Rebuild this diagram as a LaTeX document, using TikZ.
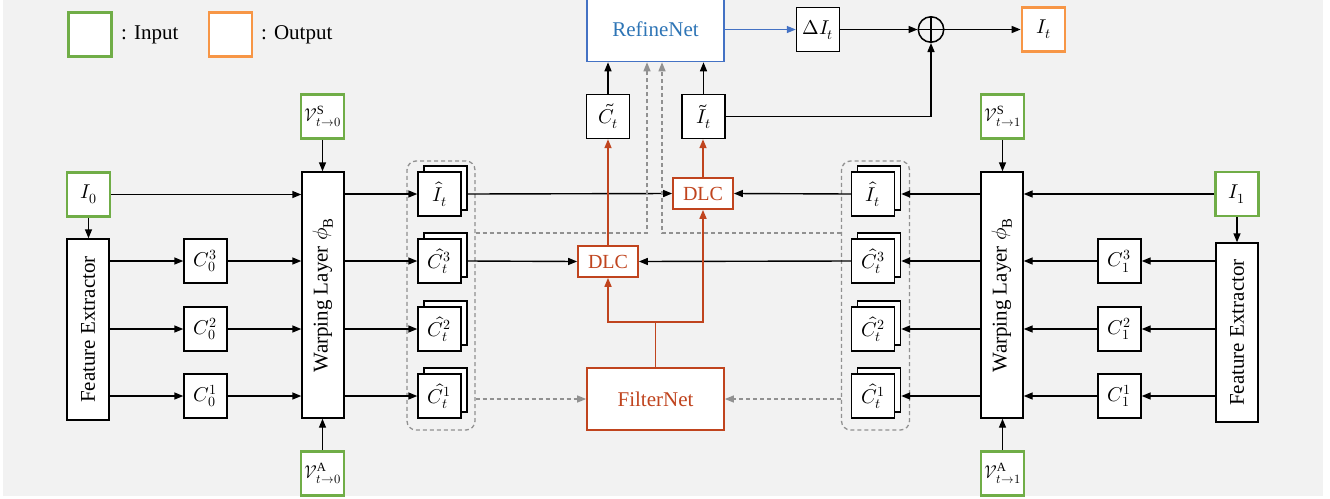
\documentclass[tikz,border=0pt]{standalone}
\usepackage{fontspec}
\setmainfont{Liberation Serif}
\usepackage{unicode-math}
\setmathfont{Latin Modern Math}
\usetikzlibrary{arrows.meta}
\definecolor{bgc}{RGB}{242,242,242}
\definecolor{ingreen}{RGB}{112,173,71}
\definecolor{outorange}{RGB}{247,150,70}
\definecolor{dred}{RGB}{192,68,30}
\definecolor{rblue}{RGB}{46,117,182}
\definecolor{rborder}{RGB}{68,114,196}
\definecolor{dgray}{RGB}{145,145,145}
\begin{document}
\begin{tikzpicture}[x=1pt,y=-1pt,
  every node/.style={font=\fontsize{21}{24}\selectfont},
  box/.style={draw=black,fill=white,line width=1.4pt,minimum width=43pt,minimum height=44pt,inner sep=0pt,font=\fontsize{20}{24}\selectfont},
  inbox/.style={box,draw=ingreen,line width=2.8pt},
  outbox/.style={box,draw=outorange,line width=2.8pt},
  vbox/.style={inbox,font=\fontsize{18}{20}\selectfont},
  tallbox/.style={draw=black,fill=white,line width=1.4pt,minimum width=42pt,inner sep=0pt},
  redbox/.style={draw=dred,fill=white,line width=1.7pt,text=dred,inner sep=0pt},
  dashbox/.style={draw=dgray,dash pattern=on 4pt off 3pt,line width=1.3pt,rounded corners=9pt,minimum width=68pt,minimum height=269pt,inner sep=0pt},
  arr/.style={line width=1.4pt,-{Triangle[length=9pt,width=7pt]}},
  redarr/.style={arr,color=dred,line width=1.6pt},
  grayarr/.style={arr,color=dgray,line width=1.3pt,dash pattern=on 4pt off 3pt},
  bluearr/.style={arr,color=rborder}
]
\useasboundingbox (0,0) rectangle (1330,498);
\fill[bgc] (3,0) rectangle (1323,496);

% legend
\node[box,draw=ingreen,line width=2.8pt] (lgin) at (90,34.5) {};
\node[anchor=west,inner sep=0pt] (lgint) at (121,35) {: Input};
\node[box,draw=outorange,line width=2.8pt] (lgout) at (230.5,34.5) {};
\node[anchor=west,inner sep=0pt] (lgoutt) at (261,35) {: Output};

% dashed groups
\node[dashbox] (LG) at (441,295.5) {};
\node[dashbox] (RG) at (875.5,295.5) {};

% left side
\node[inbox] (I0) at (88.5,194.5) {$I_0$};
\node[tallbox,minimum height=181pt] (FE0) at (88,329.5) {};
\node[rotate=90] at (FE0.center) {Feature Extractor};
\node[box] (C03) at (205.5,261) {$C_0^3$};
\node[box] (C02) at (205.5,329) {$C_0^2$};
\node[box] (C01) at (205.5,396) {$C_0^1$};
\node[tallbox,minimum height=246pt] (WL0) at (323,295) {};
\node[rotate=90] at (WL0.center) {Warping Layer $\phi_{\mathrm{B}}$};
\node[vbox] (VS0) at (322.5,116.5) {$\mathcal{V}^{\mathrm{S}}_{t\to0}$};
\node[vbox] (VA0) at (322.5,473.5) {$\mathcal{V}^{\mathrm{A}}_{t\to0}$};

% left stacks
\node[box] (L1b) at (445.5,188) {};
\node[box] (L1) at (439.5,194) {$\hat{I}_t$};
\node[box] (L2b) at (445.5,255) {};
\node[box] (L2) at (439.5,261) {$\hat{C}_t^3$};
\node[box] (L3b) at (445.5,323) {};
\node[box] (L3) at (439.5,329) {$\hat{C}_t^2$};
\node[box] (L4b) at (445.5,390) {};
\node[box] (L4) at (439.5,396) {$\hat{C}_t^1$};

% right stacks
\node[box] (R1b) at (879,188) {};
\node[box] (R1) at (873,194) {$\hat{I}_t$};
\node[box] (R2b) at (879,255) {};
\node[box] (R2) at (873,261) {$\hat{C}_t^3$};
\node[box] (R3b) at (879,323) {};
\node[box] (R3) at (873,329) {$\hat{C}_t^2$};
\node[box] (R4b) at (879,390) {};
\node[box] (R4) at (873,396) {$\hat{C}_t^1$};

% right side
\node[inbox] (I1) at (1237,194) {$I_1$};
\node[tallbox,minimum height=179pt] (FE1) at (1237,332.5) {};
\node[rotate=90] at (FE1.center) {Feature Extractor};
\node[box] (C13) at (1119.5,261) {$C_1^3$};
\node[box] (C12) at (1119.5,329) {$C_1^2$};
\node[box] (C11) at (1119.5,396) {$C_1^1$};
\node[tallbox,minimum height=246pt] (WL1) at (1002,295) {};
\node[rotate=90] at (WL1.center) {Warping Layer $\phi_{\mathrm{B}}$};
\node[vbox] (VS1) at (1002.5,116.5) {$\mathcal{V}^{\mathrm{S}}_{t\to1}$};
\node[vbox] (VA1) at (1002.5,473.5) {$\mathcal{V}^{\mathrm{A}}_{t\to1}$};

% centre
\node[redbox,minimum width=60pt,minimum height=31pt,font=\fontsize{20}{22}\selectfont] (DLCt) at (703,193.5) {DLC};
\node[redbox,minimum width=60pt,minimum height=31pt,font=\fontsize{20}{22}\selectfont] (DLCb) at (608,261.5) {DLC};
\node[redbox,minimum width=137pt,minimum height=62pt] (FN) at (655.5,399) {FilterNet};
\node[box] (Ct) at (608,116.5) {$\tilde{C}_t$};
\node[box] (It) at (703.5,116.5) {$\tilde{I}_t$};
\node[draw=rborder,fill=white,line width=1.6pt,minimum width=137pt,minimum height=64pt,text=rblue,inner sep=0pt] (RN) at (655.5,29.5) {RefineNet};
\node[box] (dI) at (818,29.5) {$\Delta I_t$};
\node[circle,draw=black,line width=1.5pt,minimum size=25.5pt,inner sep=0pt] (op) at (931,29.5) {};
\draw[line width=1.5pt] (op.north) -- (op.south) (op.west) -- (op.east);
\node[outbox] (Iout) at (1043.5,29.5) {$I_t$};

% left connectors
\draw[arr] (VS0.south) -- (VS0.south |- WL0.north);
\draw[arr] (VA0.north) -- (VA0.north |- WL0.south);
\draw[arr] (I0.south) -- (I0.south |- FE0.north);
\draw[arr] (I0.east) -- (I0.east -| WL0.west);
\foreach \c in {C03,C02,C01}{
  \draw[arr] (FE0.east |- \c) -- (\c.west);
  \draw[arr] (\c.east) -- (\c.east -| WL0.west);
}
\foreach \s in {L1,L2,L3,L4}{
  \draw[arr] (WL0.east |- \s) -- (\s.west);
}
% right connectors
\draw[arr] (VS1.south) -- (VS1.south |- WL1.north);
\draw[arr] (VA1.north) -- (VA1.north |- WL1.south);
\draw[arr] (I1.south) -- (I1.south |- FE1.north);
\draw[arr] (I1.west) -- (I1.west -| WL1.east);
\foreach \c in {C13,C12,C11}{
  \draw[arr] (FE1.west |- \c) -- (\c.east);
  \draw[arr] (\c.west) -- (\c.west -| WL1.east);
}
\foreach \s/\b in {R1/R1b,R2/R2b,R3/R3b,R4/R4b}{
  \draw[arr] (WL1.west |- \s) -- (\b.east |- \s);
}
% into DLC
\draw[arr] (L1b.east |- L1) -- (DLCt.west);
\draw[arr] (L2b.east |- L2) -- (DLCb.west);
\draw[arr] (R1.west) -- (DLCt.east);
\draw[arr] (R2.west) -- (DLCb.east);

% red
\coordinate (fs) at (655.5,322);
\draw[dred,line width=1.6pt] (FN.north) -- (fs);
\draw[redarr] (fs) -| (DLCb.south);
\draw[redarr] (fs) -| (DLCt.south);
\draw[redarr] (DLCb.north) -- (DLCb.north |- Ct.south);
\draw[redarr] (DLCt.north) -- (DLCt.north |- It.south);

% top
\draw[arr] (Ct.north) -- (Ct.north |- RN.south);
\draw[arr] (It.north) -- (It.north |- RN.south);
\draw[bluearr] (RN.east) -- (dI.west);
\draw[arr] (dI.east) -- (op.west);
\draw[arr] (op.east) -- (Iout.west);
\draw[arr] (It.east) -| (op.south);

% gray dashed
\coordinate (g1) at (647,233);
\coordinate (g2) at (662,233);
\draw[grayarr] (LG.east |- g1) -| (RN.south -| g1);
\draw[grayarr] (RG.west |- g2) -| (RN.south -| g2);
\draw[grayarr] (LG.east |- FN) -- (FN.west);
\draw[grayarr] (RG.west |- FN) -- (FN.east);
\end{tikzpicture}
\end{document}
